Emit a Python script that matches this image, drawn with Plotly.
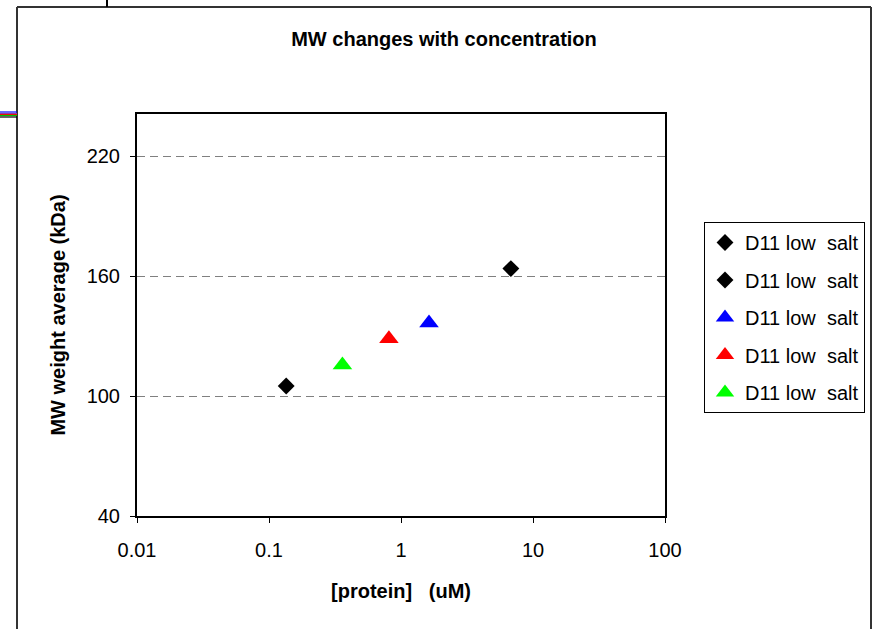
import plotly.graph_objects as go

# Weight-average molecular weight vs. protein concentration
series_names = ["D11 low  salt"] * 5
conc_um = [0.135, 6.8, 1.63, 0.81, 0.36]
mw_kda = [105.0, 163.7, 136.5, 128.6, 115.5]
marker_symbols = ["diamond", "diamond", "triangle-up", "triangle-up", "triangle-up"]
marker_colors = ["#000000", "#000000", "#0000FF", "#FF0000", "#00FF00"]
marker_sizes = [13, 13, 17, 17, 17]

x_tick_vals = [0.01, 0.1, 1, 10, 100]
x_tick_text = ["0.01", "0.1", "1", "10", "100"]
y_tick_vals = [40, 100, 160, 220]

FONT = "Arial, Liberation Sans, sans-serif"

fig = go.Figure()
for i in range(len(conc_um)):
    fig.add_trace(go.Scatter(
        x=[conc_um[i]], y=[mw_kda[i]],
        mode="markers",
        name=series_names[i],
        legendgroup=f"g{i}",
        marker=dict(symbol=marker_symbols[i], color=marker_colors[i],
                    size=marker_sizes[i], line=dict(width=0)),
    ))

# plot area is 528 x 402 px; helpers to place frame decorations in paper units
W, H = 873, 629
L, R, T, B = 137, 665, 114, 516
def px(x):
    return (x - L) / (R - L)
def py(y):
    return (B - y) / (B - T)

shapes = [
    # chart-area frame
    dict(type="line", xref="paper", yref="paper", x0=px(17), x1=px(17), y0=py(7), y1=py(640),
         line=dict(color="#333333", width=2)),
    dict(type="line", xref="paper", yref="paper", x0=px(17), x1=px(871), y0=py(7), y1=py(7),
         line=dict(color="#333333", width=2)),
    dict(type="line", xref="paper", yref="paper", x0=px(871), x1=px(871), y0=py(7), y1=py(640),
         line=dict(color="#333333", width=2)),
    dict(type="line", xref="paper", yref="paper", x0=px(107), x1=px(107), y0=py(-2), y1=py(7),
         line=dict(color="#000000", width=2)),
]
for yy, c in [(112, "#0000FF"), (113.5, "#8040C0"), (114.5, "#FF0000"), (115.5, "#00C000"), (117, "#000000")]:
    shapes.append(dict(type="line", xref="paper", yref="paper", x0=px(-2), x1=px(17),
                       y0=py(yy), y1=py(yy), line=dict(color=c, width=1.2)))

fig.update_layout(
    width=W, height=H,
    margin=dict(l=L, r=W - R, t=T, b=H - B, autoexpand=False),
    paper_bgcolor="white", plot_bgcolor="white",
    font=dict(family=FONT, size=20, color="black"),
    title=dict(text="<b>MW changes with concentration</b>", x=px(444), xref="paper",
               xanchor="center", y=1 - 39 / H, yanchor="middle",
               font=dict(family=FONT, size=20, color="black")),
    showlegend=True,
    legend=dict(x=px(704), y=py(222), xanchor="left", yanchor="top",
                bordercolor="black", borderwidth=1, bgcolor="white",
                traceorder="grouped", tracegroupgap=8.5,
                font=dict(family=FONT, size=20, color="black"),
                itemwidth=30),
    shapes=shapes,
)

fig.update_xaxes(
    type="log", range=[-2, 2],
    tickvals=x_tick_vals, ticktext=x_tick_text,
    ticks="outside", ticklen=5, tickwidth=1, tickcolor="black",
    ticklabelstandoff=10,
    showline=True, linewidth=2, linecolor="black", mirror=True,
    showgrid=False, zeroline=False,
    title=dict(text="<b>[protein]   (uM)</b>", standoff=24,
               font=dict(family=FONT, size=20, color="black")),
    tickfont=dict(family=FONT, size=20, color="black"),
)
fig.update_yaxes(
    range=[40, 241], tickvals=y_tick_vals,
    ticks="outside", ticklen=5, tickwidth=1, tickcolor="black",
    ticklabelstandoff=6,
    showline=True, linewidth=2, linecolor="black", mirror=True,
    showgrid=True, gridcolor="#808080", gridwidth=1, griddash="8px,5px",
    zeroline=False,
    title=dict(text="<b>MW weight average (kDa)</b>", standoff=16,
               font=dict(family=FONT, size=20, color="black")),
    tickfont=dict(family=FONT, size=20, color="black"),
)

fig.write_html("out.html")
